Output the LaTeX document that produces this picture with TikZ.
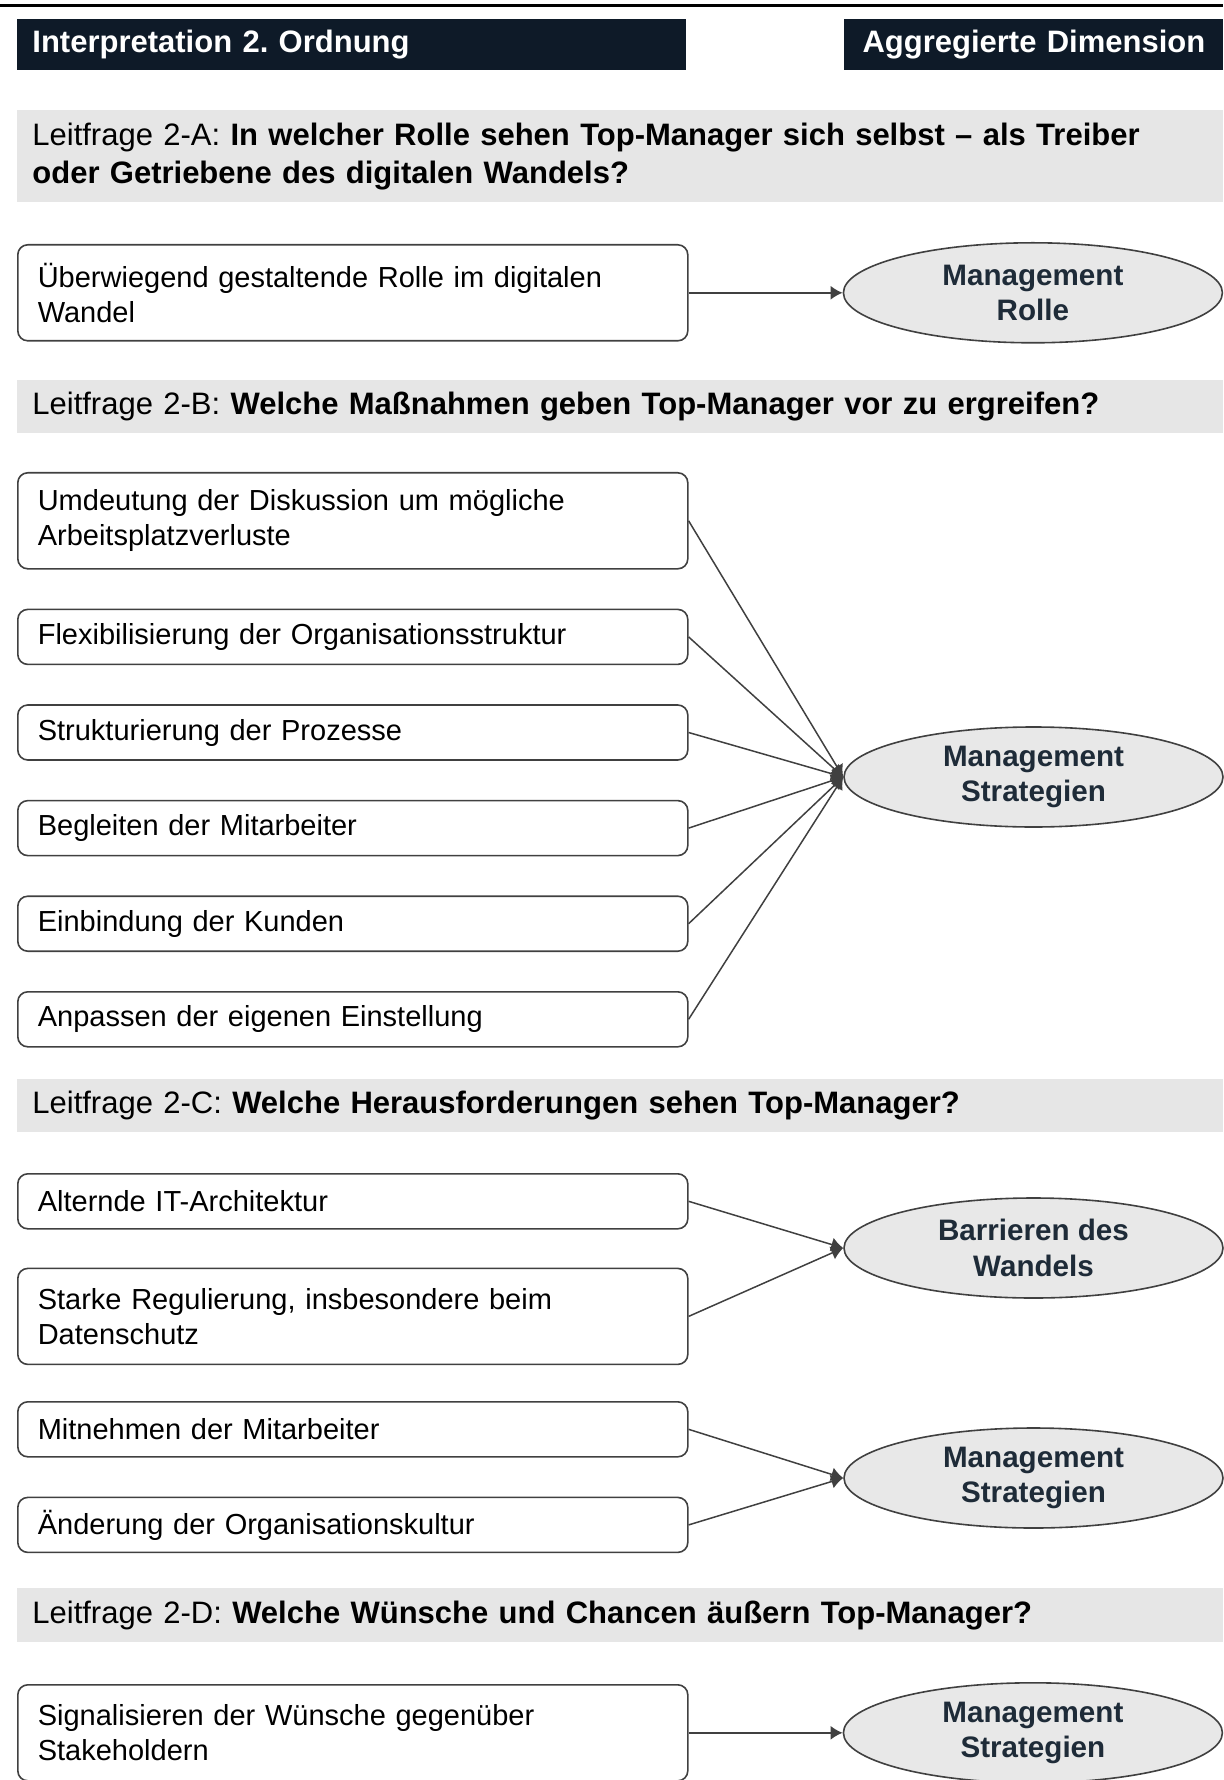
\documentclass[tikz,border=0pt]{standalone}
\usepackage{fontspec}
\setmainfont{Liberation Sans}
\usetikzlibrary{positioning,arrows.meta,shapes.geometric}
\definecolor{navy}{HTML}{0E1A28}
\definecolor{bandgray}{HTML}{E6E6E6}
\definecolor{ovalgray}{HTML}{E8E8E8}
\definecolor{ink}{HTML}{1E2B38}
\definecolor{rim}{HTML}{404040}
\frenchspacing

\begin{document}
\begin{tikzpicture}[x=0.5pt, y=-0.5pt,
    head/.style={fill=navy, text=white, anchor=west, minimum height=25.5pt,
                 inner xsep=7.5pt, inner ysep=0pt,
                 font=\fontsize{15.5}{18}\selectfont\bfseries},
    question/.style={fill=bandgray, anchor=north west, text width=588pt, align=left,
                 inner xsep=7.5pt, inner ysep=0pt, font=\fontsize{15.5}{19.3}\selectfont},
    item/.style={draw=rim, line width=0.8pt, rounded corners=5pt, fill=white,
                 text width=315pt, align=left, inner xsep=10pt, inner ysep=0pt,
                 font=\fontsize{14.5}{17.5}\selectfont},
    short/.style={item, minimum height=27.5pt},
    tall/.style={item, minimum height=48pt},
    dim/.style={ellipse, draw=rim, line width=0.8pt, fill=ovalgray, text=ink,
                 minimum width=189.5pt, minimum height=50pt, inner sep=0pt, align=center,
                 font=\fontsize{14.8}{17.6}\selectfont\bfseries},
    link/.style={draw=rim, line width=0.75pt, -{Latex[length=6pt,width=7pt]}}
  ]
  \useasboundingbox (0,0) rectangle (1223,1780);
  \draw[line width=1.5pt] (0,6) -- (1223,6);

  \node[head, text width=319.5pt, align=left] (hleft) at (17,44.5) {Interpretation 2. Ordnung};
  \node[head, text width=174.5pt, align=center] (hright) at (844,44.5) {Aggregierte Dimension};

  % Leitfrage 2-A
  \node[question, minimum height=46pt] (qa) at (17,110)
    {Leitfrage 2-A: \textbf{In welcher Rolle sehen Top-Manager sich selbst -- als Treiber}\\
     \textbf{oder Getriebene des digitalen Wandels?}};
  \node[tall, anchor=north west] (a1) at (17,244) {Überwiegend gestaltende Rolle im digitalen\\ Wandel};
  \node[dim, right=77pt of a1] (ea) {Management\\ Rolle};
  \draw[link] (a1.east) -- (ea.west);

  % Leitfrage 2-B
  \node[question, minimum height=26.5pt] (qb) at (17,380)
    {Leitfrage 2-B: \textbf{Welche Maßnahmen geben Top-Manager vor zu ergreifen?}};
  \node[tall, anchor=north west] (b1) at (17,472) {Umdeutung der Diskussion um mögliche\\ Arbeitsplatzverluste};
  \node[short, below=19.5pt of b1] (b2) {Flexibilisierung der Organisationsstruktur};
  \node[short, below=19.5pt of b2] (b3) {Strukturierung der Prozesse};
  \node[short, below=19.5pt of b3] (b4) {Begleiten der Mitarbeiter};
  \node[short, below=19.5pt of b4] (b5) {Einbindung der Kunden};
  \node[short, below=19.5pt of b5] (b6) {Anpassen der eigenen Einstellung};
  \node[dim] (eb) at (1033.5,777) {Management\\ Strategien};
  \foreach \b in {b1,b2,b3,b4,b5,b6}
    \draw[link] (\b.east) -- (eb.west);

  % Leitfrage 2-C
  \node[question, minimum height=26.5pt] (qc) at (17,1079)
    {Leitfrage 2-C: \textbf{Welche Herausforderungen sehen Top-Manager?}};
  \node[short, anchor=north west] (c1) at (17,1173) {Alternde IT-Architektur};
  \node[tall, below=19pt of c1] (c2) {Starke Regulierung, insbesondere beim\\ Datenschutz};
  \node[dim] (ec) at (1033.5,1248) {Barrieren des\\ Wandels};
  \draw[link] (c1.east) -- (ec.west);
  \draw[link] (c2.east) -- (ec.west);

  \node[short, anchor=north west] (c3) at (17,1401) {Mitnehmen der Mitarbeiter};
  \node[short, below=19.5pt of c3] (c4) {Änderung der Organisationskultur};
  \node[dim] (ed) at (1033.5,1478) {Management\\ Strategien};
  \draw[link] (c3.east) -- (ed.west);
  \draw[link] (c4.east) -- (ed.west);

  % Leitfrage 2-D
  \node[question, minimum height=27pt] (qd) at (17,1588)
    {Leitfrage 2-D: \textbf{Welche Wünsche und Chancen äußern Top-Manager?}};
  \node[tall, anchor=north west] (d1) at (17,1684) {Signalisieren der Wünsche gegenüber\\ Stakeholdern};
  \node[dim, right=77pt of d1] (ee) {Management\\ Strategien};
  \draw[link] (d1.east) -- (ee.west);
\end{tikzpicture}
\end{document}
